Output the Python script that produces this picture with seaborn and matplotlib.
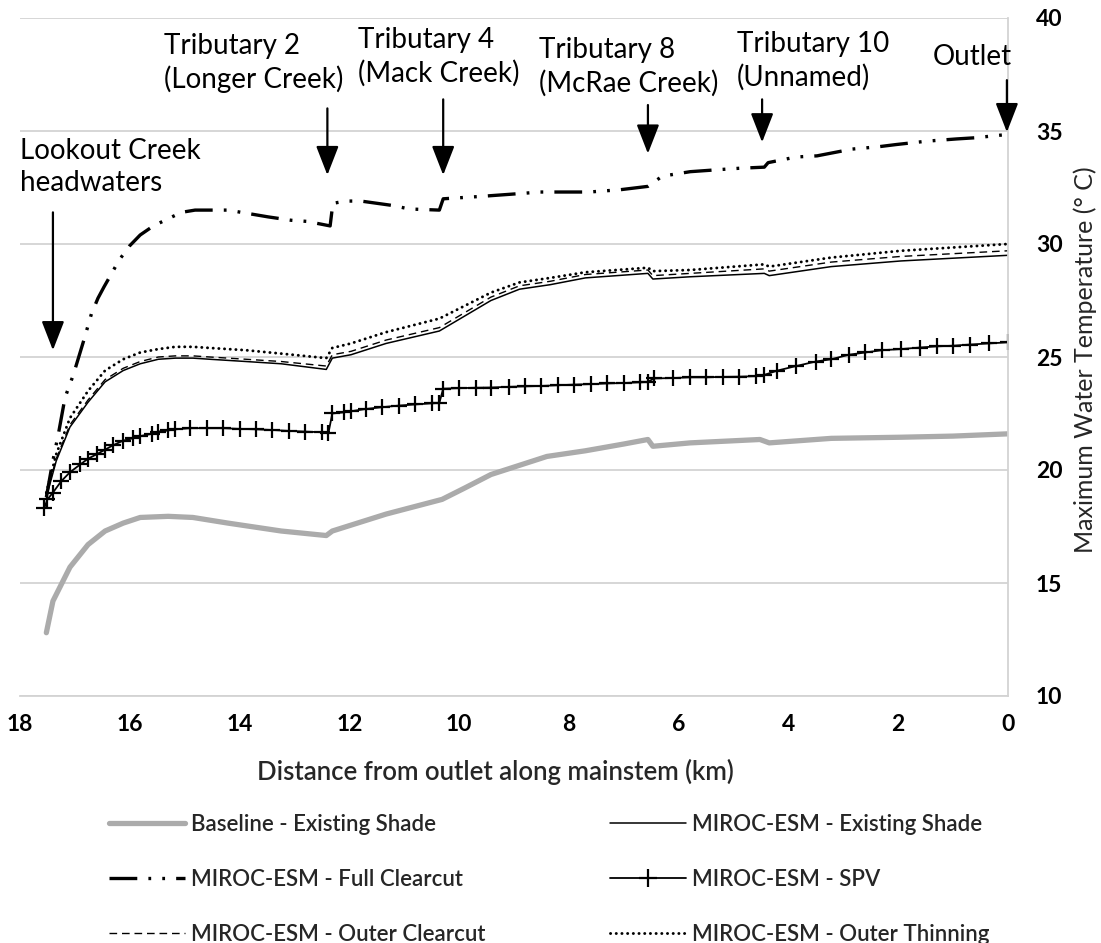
import numpy as np
import pandas as pd
import matplotlib
matplotlib.use("Agg")
import matplotlib.pyplot as plt
import seaborn as sns
from matplotlib.lines import Line2D

# ---------------- data (km from outlet, max water temperature °C) ----------------
base_km = [17.52, 17.40, 17.09, 16.76, 16.45, 16.12, 15.81, 15.30, 14.85, 14.21, 13.24,
           12.42, 12.31, 11.33, 10.31, 9.9, 9.42, 8.4, 7.7, 7.0, 6.56, 6.47, 5.79, 4.52,
           4.35, 3.22, 1.95, 1.00, 0.0]
base_T = [12.8, 14.2, 15.7, 16.7, 17.3, 17.65, 17.9, 17.95, 17.9, 17.65, 17.3,
          17.1, 17.3, 18.05, 18.7, 19.2, 19.8, 20.6, 20.85, 21.15, 21.35, 21.05, 21.2, 21.35,
          21.2, 21.4, 21.45, 21.5, 21.6]

shade_km = [17.52, 17.34, 17.09, 16.76, 16.45, 16.12, 15.81, 15.48, 15.17, 14.85, 14.54,
            13.88, 13.24, 12.42, 12.31, 11.97, 11.33, 10.36, 9.42, 8.9, 8.34, 7.70, 6.56,
            6.47, 5.79, 4.44, 4.35, 3.22, 1.95, 0.0]
shade_T = [18.8, 20.4, 21.9, 23.0, 23.9, 24.4, 24.7, 24.9, 24.95, 24.95, 24.9,
           24.8, 24.7, 24.45, 24.95, 25.1, 25.6, 26.15, 27.5, 28.0, 28.2, 28.5, 28.7,
           28.45, 28.55, 28.7, 28.6, 29.0, 29.25, 29.5]

outer_cc_T = [18.9, 20.5, 22.0, 23.1, 24.0, 24.5, 24.8, 25.0, 25.05, 25.05, 25.0,
              24.9, 24.8, 24.6, 25.1, 25.25, 25.75, 26.3, 27.65, 28.15, 28.35, 28.65, 28.85,
              28.6, 28.7, 28.9, 28.8, 29.2, 29.45, 29.7]

outer_thin_T = [19.0, 20.7, 22.3, 23.5, 24.4, 24.9, 25.2, 25.35, 25.45, 25.45, 25.4,
                25.3, 25.15, 24.95, 25.4, 25.6, 26.1, 26.7, 27.85, 28.3, 28.5, 28.75, 28.95,
                28.8, 28.85, 29.1, 29.0, 29.4, 29.7, 30.0]

full_km = [17.52, 17.41, 17.30, 17.18, 17.03, 16.83, 16.70, 16.58, 16.47, 16.19, 16.01,
           15.81, 15.57, 15.06, 14.81, 14.48, 14.21, 13.48, 13.06, 12.77, 12.35, 12.30,
           12.06, 11.79, 11.20, 10.91, 10.36, 10.29, 9.64, 9.07, 8.52, 7.63, 7.07, 6.56,
           6.30, 5.79, 5.21, 4.90, 4.44, 4.37, 3.86, 3.48, 2.84, 2.37, 2.04, 1.48, 0.93,
           0.60, 0.0]
full_T = [18.8, 20.3, 21.6, 23.2, 24.2, 25.8, 26.9, 27.6, 28.1, 29.3, 29.9,
          30.4, 30.8, 31.4, 31.5, 31.5, 31.5, 31.2, 31.05, 31.0, 30.8, 31.8,
          31.9, 31.9, 31.7, 31.55, 31.5, 32.0, 32.1, 32.2, 32.3, 32.3, 32.4, 32.55,
          33.0, 33.2, 33.3, 33.35, 33.4, 33.6, 33.85, 33.9, 34.2, 34.3, 34.4, 34.55, 34.65,
          34.7, 34.85]

spv_km = [17.56, 17.5, 17.4, 17.25, 17.09, 16.9, 16.76, 16.6, 16.45, 16.3, 16.12, 15.95,
          15.81, 15.6, 15.48, 15.3, 15.17, 14.9, 14.6, 14.3, 14.0, 13.7, 13.4, 13.1, 12.8,
          12.5, 12.38, 12.31, 12.1, 11.97, 11.7, 11.4, 11.1, 10.8, 10.5, 10.36, 10.29, 10.0,
          9.7, 9.42, 9.1, 8.8, 8.5, 8.2, 7.9, 7.6, 7.3, 7.0, 6.7, 6.56, 6.45, 6.1, 5.8, 5.5,
          5.2, 4.9, 4.6, 4.45, 4.2, 3.86, 3.5, 3.22, 2.9, 2.6, 2.3, 1.95, 1.6, 1.3, 1.0,
          0.7, 0.35, 0.0]
spv_T = [18.3, 18.7, 19.0, 19.5, 19.9, 20.25, 20.5, 20.7, 20.9, 21.1, 21.3, 21.4,
         21.5, 21.6, 21.7, 21.75, 21.8, 21.85, 21.85, 21.85, 21.82, 21.8, 21.77, 21.73, 21.7,
         21.67, 21.65, 22.5, 22.55, 22.6, 22.7, 22.78, 22.85, 22.9, 22.95, 22.97, 23.6, 23.62,
         23.64, 23.65, 23.68, 23.7, 23.72, 23.75, 23.78, 23.8, 23.83, 23.85, 23.88, 23.9, 24.05,
         24.07, 24.1, 24.1, 24.12, 24.13, 24.15, 24.2, 24.4, 24.6, 24.8, 24.9, 25.1, 25.2,
         25.3, 25.35, 25.42, 25.47, 25.5, 25.55, 25.6, 25.65]

labels = ["Baseline - Existing Shade", "MIROC-ESM - Existing Shade",
          "MIROC-ESM - Full Clearcut", "MIROC-ESM - SPV",
          "MIROC-ESM - Outer Clearcut", "MIROC-ESM - Outer Thinning"]

x_ticks = [18, 16, 14, 12, 10, 8, 6, 4, 2, 0]
y_ticks = [10, 15, 20, 25, 30, 35, 40]

# annotation sites (km) and texts
annot_texts = ["Lookout Creek\nheadwaters", "Tributary 2\n(Longer Creek)", "Tributary 4\n(Mack Creek)",
               "Tributary 8\n(McRae Creek)", "Tributary 10\n(Unnamed)", "Outlet"]
annot_km = [17.40, 12.40, 10.29, 6.56, 4.48, 0.02]

# ---------------- style ----------------
sns.set_theme(style="white")
plt.rcParams["font.family"] = ["Lato", "DejaVu Sans"]
plt.rcParams["lines.scale_dashes"] = False

fig = plt.figure(figsize=(11.01, 9.43), dpi=100)
ax = fig.add_axes([20 / 1101, 1 - 696 / 943, (1008 - 20) / 1101, (696 - 18) / 943])

grid_c = "#d3d3d3"

def draw(km, T, **kw):
    df = pd.DataFrame({"km": km, "T": T})
    sns.lineplot(data=df, x="km", y="T", ax=ax, estimator=None, sort=False, **kw)
    return ax.lines[-1]

l_base = draw(base_km, base_T, color="#ababab", linewidth=3.8, solid_capstyle="round")
l_spv = draw(spv_km, spv_T, color="black", linewidth=1.3, marker="+", markersize=11,
             markeredgewidth=1.6, markeredgecolor="black")
l_shade = draw(shade_km, shade_T, color="black", linewidth=1.1)
l_occ = draw(shade_km, outer_cc_T, color="black", linewidth=1.0)
l_occ.set_linestyle((0, (5.5, 3.5)))
l_thin = draw(shade_km, outer_thin_T, color="black", linewidth=2.1)
l_thin.set_linestyle((0, (0.1, 4.0)))
l_thin.set_dash_capstyle("round")
l_full = draw(full_km, full_T, color="black", linewidth=2.4)
l_full.set_linestyle((0, (20, 8, 2, 8, 2, 8)))

ax.set_xlim(18, 0)
ax.set_ylim(10, 40)
ax.set_xticks(x_ticks)
ax.set_xticklabels([str(v) for v in x_ticks])
ax.set_yticks(y_ticks)
ax.set_yticklabels([str(v) for v in y_ticks])
ax.yaxis.tick_right()
ax.yaxis.set_label_position("right")
ax.tick_params(axis="both", length=0, labelsize=16.5, colors="black")
ax.tick_params(axis="x", pad=13)
ax.tick_params(axis="y", pad=20)
for t in ax.get_xticklabels() + ax.get_yticklabels():
    t.set_fontweight("bold")
ax.yaxis.grid(True, color=grid_c, linewidth=1.3)
ax.xaxis.grid(False)
ax.set_axisbelow(True)
for s in ["top", "left"]:
    ax.spines[s].set_visible(False)
for s in ["right", "bottom"]:
    ax.spines[s].set_color(grid_c)
    ax.spines[s].set_linewidth(1.3)

ax.set_xlabel("Distance from outlet along mainstem (km)", fontsize=18.5, fontweight="semibold")
ax.xaxis.set_label_coords((495 - 20) / 988, (696 - 772) / 678, transform=ax.transAxes)
xl = ax.xaxis.label
xl.set_verticalalignment("center")
ax.set_ylabel("Maximum Water Temperature (° C)", fontsize=18)
yl = ax.yaxis.label
ax.yaxis.set_label_coords((1085 - 20) / 988, (696 - 360) / 678, transform=ax.transAxes)
yl.set_verticalalignment("center")
yl.set_horizontalalignment("center")
yl.set_rotation_mode("anchor")

# ---------------- annotations ----------------
arrow_kw = dict(arrowstyle="-|>,head_length=0.9,head_width=0.35", color="black", lw=1.6,
                shrinkA=0, shrinkB=0, mutation_scale=20)
arrow_ends = [(31.4, 25.3), (36.0, 33.05), (36.4, 33.05), (36.15, 34.0), (36.4, 34.5), (37.25, 34.95)]
for k, (t0, t1) in zip(annot_km, arrow_ends):
    ax.annotate("", xy=(k, t1), xytext=(k, t0), arrowprops=arrow_kw, annotation_clip=False)

txt_kw = dict(fontsize=20, color="black", linespacing=1.3, va="center")
text_pos = [(20, 167, "left"), (164, 63, "left"), (358, 57, "left"), (539, 67, "left"),
            (737, 61, "left"), (1012, 57, "right")]
for s, (px, py, ha) in zip(annot_texts, text_pos):
    fig.text(px / 1101, 1 - py / 943, s, ha=ha, **txt_kw)

# ---------------- legend ----------------
leg_kw = dict(frameon=False, handlelength=3.4, handletextpad=0.3, borderaxespad=0,
              labelspacing=1.52, borderpad=0, prop={"weight": "semibold", "size": 16})
h = [l_base, l_shade, l_full, l_spv, l_occ, l_thin]
hl = []
for ln in h:
    nl = Line2D([], [])
    nl.update_from(ln)
    hl.append(nl)
hl[3].set_markevery([1])
hl[3].set_markersize(13)
leg1 = fig.legend([hl[0], hl[2], hl[4]], [labels[0], labels[2], labels[4]], loc="upper left",
                  bbox_to_anchor=(109 / 1101, 1 - 814 / 943), **leg_kw)
leg2 = fig.legend([hl[1], hl[3], hl[5]], [labels[1], labels[3], labels[5]], loc="upper left",
                  bbox_to_anchor=(610 / 1101, 1 - 814 / 943), **leg_kw)

fig.savefig("out.png", dpi=100, facecolor="white")
